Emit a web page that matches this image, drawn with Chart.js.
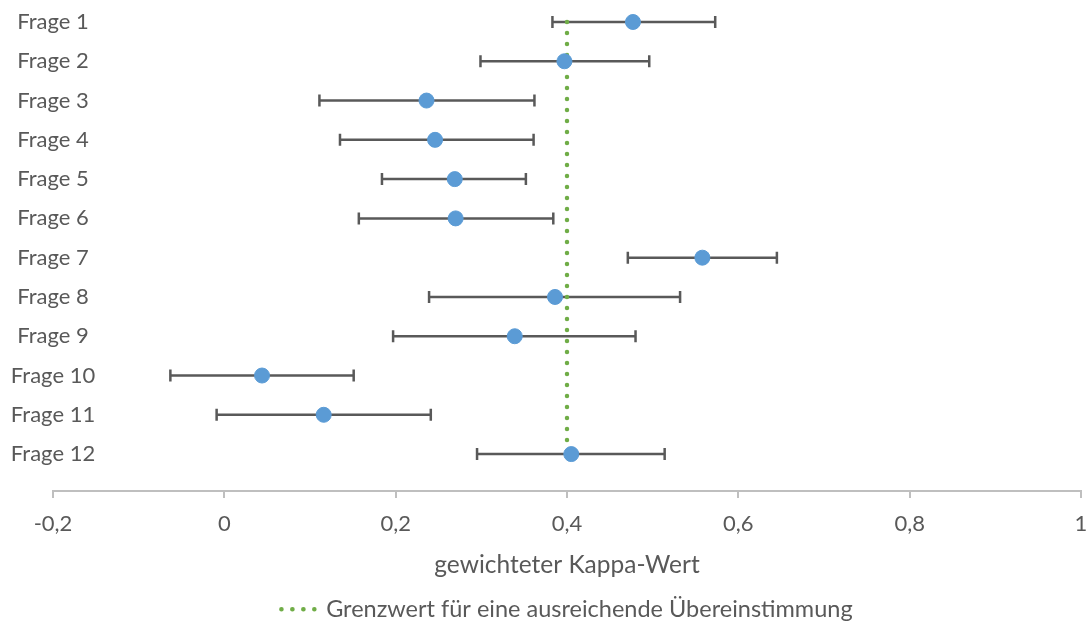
<!DOCTYPE html>
<html>
<head>
<meta charset="utf-8">
<script src="https://cdn.jsdelivr.net/npm/chart.js@4/dist/chart.umd.min.js"></script>
<style>
  html, body { margin: 0; padding: 0; background: #fff; }
  #wrap { width: 1089px; height: 625px; }
</style>
</head>
<body>
<div id="wrap"><canvas id="kappaChart"></canvas></div>
<script>
// Data
const questions = ['Frage 1', 'Frage 2', 'Frage 3', 'Frage 4', 'Frage 5', 'Frage 6',
  'Frage 7', 'Frage 8', 'Frage 9', 'Frage 10', 'Frage 11', 'Frage 12'];
const kappa   = [0.477, 0.397, 0.236, 0.246, 0.269, 0.270, 0.558, 0.386, 0.339, 0.044, 0.116, 0.405];
const ciLower = [0.383, 0.299, 0.111, 0.135, 0.184, 0.157, 0.471, 0.239, 0.197, -0.063, -0.009, 0.295];
const ciUpper = [0.573, 0.496, 0.362, 0.361, 0.352, 0.384, 0.645, 0.532, 0.480, 0.151, 0.241, 0.514];
const threshold = 0.4;
const xTicks = [-0.2, 0, 0.2, 0.4, 0.6, 0.8, 1];
const legendLabel = 'Grenzwert für eine ausreichende Übereinstimmung';
const xTitle = 'gewichteter Kappa-Wert';

const FONT = 'Lato';
const TEXT = '#595959';
const PAD_BOTTOM = -6;

// error bars drawn through the chart scales
const errorBars = {
  id: 'errorBars',
  beforeDatasetsDraw(chart) {
    const { ctx, scales: { x, y } } = chart;
    ctx.save();
    ctx.strokeStyle = '#595959';
    ctx.lineWidth = 2.5;
    kappa.forEach((v, i) => {
      const py = y.getPixelForValue(i + 1);
      const x0 = x.getPixelForValue(ciLower[i]);
      const x1 = x.getPixelForValue(ciUpper[i]);
      ctx.beginPath();
      ctx.moveTo(x0, py); ctx.lineTo(x1, py);
      ctx.moveTo(x0, py - 6); ctx.lineTo(x0, py + 6);
      ctx.moveTo(x1, py - 6); ctx.lineTo(x1, py + 6);
      ctx.stroke();
    });
    ctx.restore();
  }
};

// category labels centred on the left end of the value axis
const questionLabels = {
  id: 'questionLabels',
  afterDatasetsDraw(chart) {
    const { ctx, scales: { x, y } } = chart;
    ctx.save();
    ctx.font = '22px ' + FONT;
    ctx.fillStyle = TEXT;
    ctx.textAlign = 'center';
    ctx.textBaseline = 'middle';
    questions.forEach((q, i) => {
      ctx.fillText(q, x.getPixelForValue(x.min), y.getPixelForValue(i + 1));
    });
    ctx.restore();
  }
};

const ctx = document.getElementById('kappaChart').getContext('2d');
new Chart(ctx, {
  type: 'scatter',
  data: {
    datasets: [{
      label: 'Kappa',
      data: kappa.map((v, i) => ({ x: v, y: i + 1 })),
      backgroundColor: '#5B9BD5',
      borderColor: '#5B9BD5',
      pointRadius: 7.5,
      pointHoverRadius: 7.5,
      order: 0
    }, {
      label: legendLabel,
      data: [{ x: threshold, y: 1 }, { x: threshold, y: questions.length }],
      showLine: true,
      borderColor: '#70AD47',
      backgroundColor: '#70AD47',
      borderWidth: 4.5,
      borderDash: [0.1, 10.9],
      borderCapStyle: 'round',
      pointRadius: 0,
      order: 1
    }]
  },
  options: {
    responsive: true,
    maintainAspectRatio: false,
    animation: false,
    layout: { autoPadding: false, padding: { left: 53, right: 8, top: 0, bottom: PAD_BOTTOM } },
    scales: {
      x: {
        type: 'linear',
        min: -0.2,
        max: 1,
        afterBuildTicks: axis => { axis.ticks = xTicks.map(v => ({ value: v })); },
        afterFit: axis => {
          const lg = axis.chart.legend;
          axis.height = 625 - PAD_BOTTOM - 491 - (lg ? lg.height : 40);
          // edge labels fit inside the layout padding
          axis.paddingLeft = 0;
          axis.paddingRight = 0;
        },
        ticks: {
          color: TEXT,
          font: { family: FONT, size: 22 },
          padding: 13,
          maxRotation: 0,
          callback: v => String(Math.round(v * 10) / 10).replace('.', ',')
        },
        grid: {
          drawOnChartArea: false,
          drawTicks: true,
          tickLength: 7,
          color: '#BFBFBF',
          lineWidth: 2
        },
        border: { color: '#BFBFBF', width: 2 },
        title: {
          display: true,
          text: xTitle,
          color: TEXT,
          font: { family: FONT, size: 24.5 },
          padding: { top: 0, bottom: 12 }
        }
      },
      y: {
        type: 'linear',
        display: false,
        reverse: true,
        min: 0.44,
        max: 12.94
      }
    },
    plugins: {
      legend: {
        position: 'bottom',
        labels: {
          filter: item => item.datasetIndex === 1,
          boxWidth: 33,
          boxHeight: 0,
          color: TEXT,
          font: { family: FONT, size: 23.5 },
          padding: 6
        }
      },
      tooltip: { enabled: false }
    }
  },
  plugins: [errorBars, questionLabels]
});
</script>
</body>
</html>
